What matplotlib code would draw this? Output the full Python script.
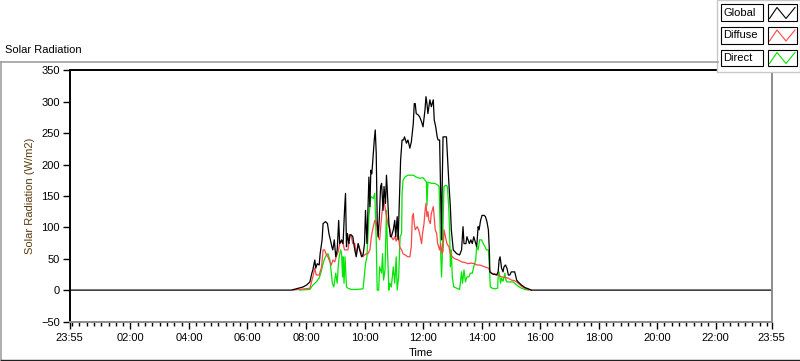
import numpy as np
import matplotlib
matplotlib.use('Agg')
import matplotlib.pyplot as plt
from matplotlib.lines import Line2D
from matplotlib.patches import Rectangle
from matplotlib.ticker import FixedLocator

plt.rcParams['font.family'] = ['Liberation Sans', 'DejaVu Sans']

# Datos (minutos desde medianoche, W/m2)
t_global = [-5, 450, 464, 474, 481, 488, 492, 494, 498, 500, 503, 507, 509, 513, 515, 520, 524, 527,
            530, 533, 535, 538, 541, 544, 547, 549, 553, 556, 559, 561, 563, 565, 568, 570, 573, 576,
            580, 583, 587, 590, 594, 597, 600, 602, 605, 609, 611, 613, 615, 618, 620, 622, 624, 626,
            628, 630, 633, 635, 638, 640, 643, 645, 647, 650, 653, 655, 659, 662, 664, 667, 669, 672,
            674, 677, 680, 682, 686, 689, 693, 696, 700, 702, 704, 706, 710, 713, 717, 720, 724, 726,
            728, 730, 734, 737, 741, 743, 746, 749, 751, 754, 756, 758, 759, 761, 765, 768, 773, 776,
            778, 782, 789, 795, 799, 802, 804, 808, 810, 815, 818, 821, 824, 828, 830, 833, 835, 838,
            841, 845, 848, 851, 854, 856, 857, 860, 864, 867, 871, 874, 876, 878, 881, 884, 886, 889,
            892, 895, 898, 901, 905, 908, 912, 915, 922, 929, 936, 942, 1435]
global_rad = [0, 0, 3, 5, 8, 13, 27, 32, 48, 35, 42, 40, 58, 80, 106, 109, 106, 90,
              80, 69, 64, 80, 53, 64, 111, 74, 80, 74, 127, 154, 69, 90, 74, 88, 88, 85,
              64, 53, 74, 64, 53, 56, 74, 127, 74, 180, 133, 191, 185, 218, 239, 255, 218, 111,
              85, 110, 165, 170, 127, 165, 138, 183, 154, 106, 85, 85, 96, 111, 85, 117, 80, 154,
              207, 239, 239, 244, 234, 239, 226, 236, 265, 297, 297, 281, 279, 276, 268, 260, 287, 308,
              297, 281, 303, 292, 303, 271, 260, 244, 239, 239, 159, 80, 154, 244, 244, 244, 170, 133,
              96, 64, 58, 56, 64, 101, 74, 74, 85, 74, 80, 74, 85, 74, 69, 101, 96, 111,
              119, 119, 117, 109, 96, 64, 29, 27, 25, 25, 24, 29, 48, 53, 35, 29, 37, 40,
              35, 24, 24, 29, 29, 29, 16, 13, 8, 4, 2, 0, 0]

t_diffuse = [453, 488, 494, 498, 501, 507, 512, 515, 518, 522, 525, 529, 532, 535, 539, 542, 546, 549,
             553, 556, 559, 563, 566, 570, 573, 576, 580, 583, 587, 590, 594, 597, 600, 604, 607, 611,
             614, 618, 621, 624, 628, 631, 635, 638, 640, 643, 645, 648, 652, 655, 659, 662, 665, 669,
             672, 676, 679, 683, 689, 693, 696, 698, 700, 702, 704, 708, 711, 713, 717, 719, 722, 724,
             726, 728, 730, 732, 735, 737, 741, 743, 745, 748, 750, 752, 754, 756, 759, 761, 763, 766,
             769, 773, 776, 780, 785, 792, 799, 806, 812, 819, 826, 830, 836, 847, 854, 860, 867, 874,
             881, 888, 895, 901, 908, 912, 915, 922, 929, 936, 942]
diffuse_rad = [0, 3, 21, 35, 24, 24, 37, 64, 64, 56, 53, 45, 40, 48, 45, 53, 61, 74,
               77, 74, 64, 64, 64, 88, 85, 74, 74, 58, 74, 66, 58, 53, 56, 58, 58, 64,
               85, 101, 111, 108, 85, 80, 117, 138, 143, 127, 117, 106, 98, 85, 80, 85, 78, 90,
               69, 64, 58, 56, 53, 53, 70, 117, 122, 106, 96, 101, 96, 90, 74, 90, 106, 125,
               138, 117, 125, 111, 106, 122, 133, 115, 96, 90, 74, 69, 64, 74, 58, 62, 96, 85,
               74, 69, 58, 53, 50, 48, 45, 44, 42, 43, 42, 40, 40, 37, 35, 27, 26, 24,
               21, 20, 19, 16, 15, 13, 11, 6, 3, 1, 0]

t_direct = [467, 488, 494, 501, 507, 512, 515, 518, 522, 525, 529, 532, 534, 537, 541, 544, 546, 548,
            551, 553, 555, 556, 558, 560, 563, 566, 573, 583, 597, 602, 605, 609, 613, 618, 621, 624,
            626, 629, 631, 635, 637, 639, 642, 645, 647, 650, 652, 655, 659, 662, 665, 667, 670, 673,
            676, 677, 679, 683, 689, 696, 700, 706, 713, 720, 724, 727, 728, 730, 737, 744, 751, 753,
            754, 756, 758, 760, 761, 763, 767, 770, 773, 775, 776, 778, 780, 783, 789, 795, 799, 801,
            804, 807, 810, 814, 817, 821, 824, 828, 830, 833, 836, 840, 843, 847, 850, 854, 856, 858,
            862, 867, 873, 874, 876, 879, 881, 884, 888, 890, 892, 898, 905, 908, 915, 922, 929, 936]
direct_rad = [0, 1, 8, 13, 19, 32, 42, 50, 56, 58, 48, 27, 11, 5, 27, 11, 37, 53,
              64, 58, 21, 53, 11, 53, 5, 3, 1, 1, 2, 42, 53, 117, 149, 146, 154, 80,
              0, 0, 37, 27, 58, 16, 32, 127, 64, 0, 11, 5, 37, 11, 53, 0, 21, 85,
              90, 154, 175, 180, 183, 183, 183, 180, 178, 179, 175, 172, 135, 172, 170, 170, 167, 165,
              133, 64, 21, 69, 106, 165, 167, 165, 127, 80, 37, 64, 21, 5, 3, 1, 29, 11,
              32, 13, 21, 21, 27, 27, 37, 48, 69, 64, 80, 80, 75, 69, 64, 64, 37, 5,
              3, 2, 3, 21, 29, 11, 19, 14, 27, 16, 13, 13, 13, 11, 6, 3, 1, 0]

y_ticks = [-50, 0, 50, 100, 150, 200, 250, 300, 350]
x_major = [-5, 120, 240, 360, 480, 600, 720, 840, 960, 1080, 1200, 1320, 1435]
x_labels = ['23:55', '02:00', '04:00', '06:00', '08:00', '10:00', '12:00',
            '14:00', '16:00', '18:00', '20:00', '22:00', '23:55']

W, H = 800, 361
fig = plt.figure(figsize=(W / 100, H / 100), dpi=100)


def fx(x):
    return x / W


def fy(y):
    return 1 - y / H


# Panel exterior
fig.add_artist(Line2D([fx(0), fx(718)], [fy(62), fy(62)], color='#a0a0a0', lw=1.2))
fig.add_artist(Line2D([fx(1), fx(1)], [fy(62), fy(361)], color='#a0a0a0', lw=1.2))
fig.add_artist(Line2D([fx(1), fx(800)], [fy(360), fy(360)], color='#202020', lw=1.0))

ax = fig.add_axes([fx(69.5), fy(321.5), (771.7 - 69.5) / W, (321.5 - 70.3) / H])
ax.plot(t_direct, direct_rad, color='#00e600', lw=0.9)
ax.plot(t_diffuse, diffuse_rad, color='#ff4646', lw=0.9)
ax.plot(t_global, global_rad, color='black', lw=0.9)

ax.set_xlim(-5, 1435)
ax.set_ylim(-50, 350)
ax.set_yticks(y_ticks)
ax.xaxis.set_major_locator(FixedLocator(x_major))
ax.set_xticklabels(x_labels)
ax.xaxis.set_minor_locator(FixedLocator(np.arange(0, 1435, 15)))
ax.tick_params(axis='both', which='major', labelsize=8, length=5, width=1, pad=2, colors='black')
ax.tick_params(axis='x', which='major', pad=3)
ax.tick_params(axis='x', which='minor', length=3, width=1)

for s in ['top', 'left']:
    ax.spines[s].set_color('black')
    ax.spines[s].set_linewidth(1.4)
for s in ['bottom', 'right']:
    ax.spines[s].set_color('#8c8c8c')
    ax.spines[s].set_linewidth(1.4)

ax.set_xlabel('Time', fontsize=8, labelpad=4)
ax.set_ylabel('Solar Radiation (W/m2)', fontsize=8, color='#5a3c10', labelpad=4)

fig.text(fx(5), fy(50), 'Solar Radiation', fontsize=8, va='center', ha='left')

# Leyenda
fig.add_artist(Rectangle((fx(717), fy(72)), fx(83), 72 / H, facecolor='white',
                         edgecolor='#c8c8c8', lw=1.0))
names = ['Global', 'Diffuse', 'Direct']
colors = ['black', '#ff4646', '#00e600']
tops = [4.5, 27, 49.5]
for name, c, top in zip(names, colors, tops):
    bot = top + 16.5
    fig.add_artist(Rectangle((fx(721), fy(bot)), fx(42), 16.5 / H, facecolor='white',
                             edgecolor='black', lw=0.8))
    fig.add_artist(Rectangle((fx(767.5), fy(bot)), fx(29), 16.5 / H, facecolor='white',
                             edgecolor='black', lw=0.8))
    fig.text(fx(723), fy(top + 8.5), name, fontsize=8, va='center', ha='left')
    zx = [769.5, 777, 786, 795]
    zy = [bot - 2.5, top + 3, bot - 2.5, top + 3]
    fig.add_artist(Line2D([fx(v) for v in zx], [fy(v) for v in zy], color=c, lw=0.8))

fig.savefig('out.png', dpi=100)
